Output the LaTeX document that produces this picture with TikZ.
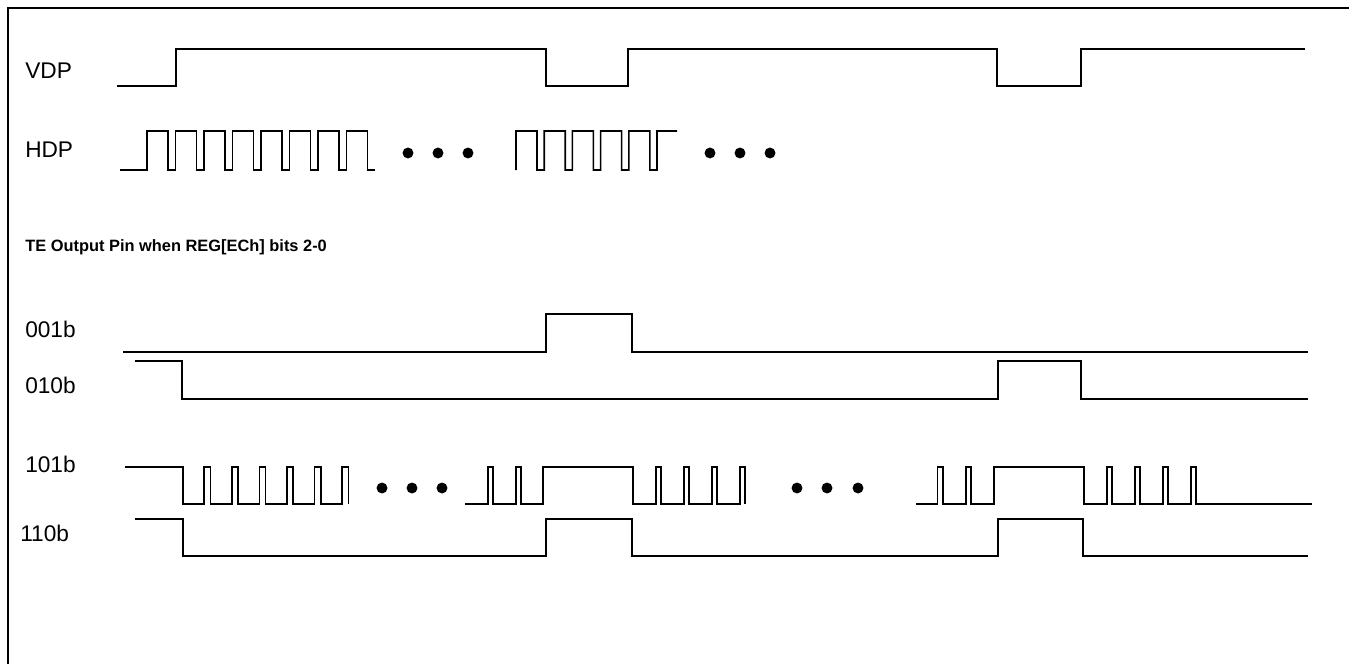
\documentclass[tikz,border=0pt]{standalone}
\usepackage{fontspec}
\setmainfont{Liberation Sans}
\usetikzlibrary{positioning}

\begin{document}
\begin{tikzpicture}[x=0.75pt,y=-0.75pt]
\tikzstyle{wave}=[line width=1.2pt, black]
\tikzstyle{lbl}=[anchor=base west, inner sep=0pt, font=\fontsize{17}{20}\selectfont]
\tikzstyle{frame}=[line width=0.8pt, black]
\useasboundingbox (0,0) rectangle (1349,664);
\draw[frame] (1349,8) -- (8,8) -- (8,664);
% 1. Labels
%%%%%%%%%%
\node[lbl] (vdp) at (25,78) {VDP};
\node[lbl] (hdp) at (25,157) {HDP};
\node[lbl, font=\fontsize{12.3}{15}\selectfont\bfseries] (title) at (25,251) {TE Output Pin when REG[ECh] bits 2-0};
\node[lbl] (te1) at (25,337) {001b};
\node[lbl] (te2) at (25,393) {010b};
\node[lbl] (te5) at (25,472) {101b};
\node[lbl] (te6) at (20,541) {110b};
% 2. VDP / HDP
%%%%%%%%%%%%%
\draw[wave] (117,86) -- (176,86) -- (176,49) -- (546,49) -- (546,86) -- (628,86) -- (628,49)
      -- (997,49) -- (997,86) -- (1081,86) -- (1081,49) -- (1305,49);
\draw[wave] (120,170) \foreach \i in {0,...,7}{ -- ({147+28.5*\i},170) -- ({147+28.5*\i},131)
      -- ({168+28.5*\i},131) -- ({168+28.5*\i},170)} -- (375,170);
\draw[wave] (516,170) \foreach \i in {0,...,4}{ -- ({516+28.2*\i},131) -- ({537+28.2*\i},131)
      -- ({537+28.2*\i},170) -- ({544.2+28.2*\i},170)} -- (657,131) -- (677,131);
\foreach \x in {408,438,468,710,740,770}
  \fill (\x,153) circle (4.1pt);
% 3. TE output
%%%%%%%%%%%%%%
\draw[wave] (123,352) -- (546,352) -- (546,314) -- (632,314) -- (632,352) -- (1308,352);
\draw[wave] (135,361) -- (182,361) -- (182,399) -- (998,399) -- (998,361) -- (1081,361)
      -- (1081,399) -- (1308,399);
% 101b
\draw[wave] (125,467) \foreach \i in {0,...,5}{ -- ({182.7+27.6*\i},467) -- ({182.7+27.6*\i},504)
      -- ({204.2+27.6*\i},504) -- ({204.2+27.6*\i},467)} -- (348.3,467) -- (348.3,504);
\draw[wave] (465,504) \foreach \i in {0,1}{ -- ({488+28*\i},504) -- ({488+28*\i},467)
      -- ({493+28*\i},467) -- ({493+28*\i},504)} -- (543,504) -- (543,467)
      \foreach \i in {0,...,3}{ -- ({633+28*\i},467) -- ({633+28*\i},504)
      -- ({656+28*\i},504) -- ({656+28*\i},467)} -- (745,467) -- (745,504);
\draw[wave] (916,504) \foreach \i in {0,1}{ -- ({937.5+28.2*\i},504) -- ({937.5+28.2*\i},467)
      -- ({943+28.2*\i},467) -- ({943+28.2*\i},504)} -- (994,504) -- (994,467)
      \foreach \i in {0,...,3}{ -- ({1084+28*\i},467) -- ({1084+28*\i},504)
      -- ({1107+28*\i},504) -- ({1107+28*\i},467)} -- (1196,467) -- (1196,504) -- (1312,504);
\foreach \x in {382,412,442,797,827,858}
  \fill (\x,488) circle (4.1pt);
% 110b
\draw[wave] (135,519) -- (183,519) -- (183,556) -- (546,556) -- (546,519) -- (632,519) -- (632,556)
      -- (998,556) -- (998,519) -- (1083,519) -- (1083,556) -- (1308,556);
\end{tikzpicture}
\end{document}
